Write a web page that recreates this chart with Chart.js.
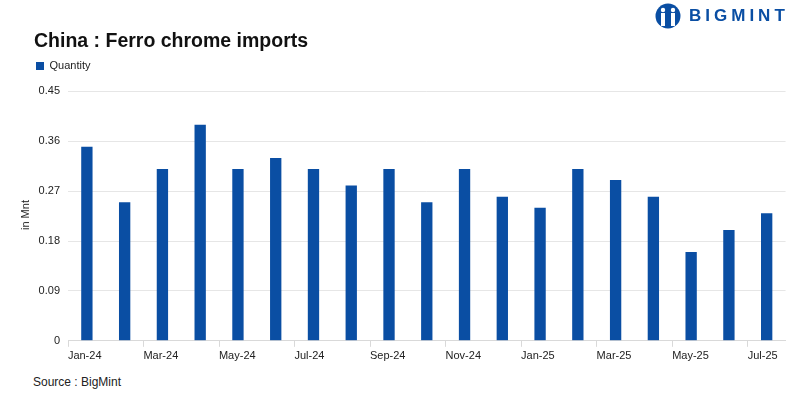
<!DOCTYPE html>
<html>
<head>
<meta charset="utf-8">
<script src="https://cdn.jsdelivr.net/npm/chart.js@4.4.1/dist/chart.umd.min.js"></script>
<style>
    body { margin: 0; background: #fff; font-family: "Liberation Sans", Arial, sans-serif; }
    #wrap { position: relative; width: 800px; height: 399px; }
    #chart-box { position: absolute; left: 0; top: 0; width: 800px; height: 366px; }
    .logo { position: absolute; left: 655px; top: 3px; display: flex; align-items: center; }
    .logo span { color: #0a4ea3; font-weight: bold; font-size: 17px; letter-spacing: 4px; margin-left: 8px; }
    .y-title { position: absolute; left: 25px; top: 215px; transform: translate(-50%, -50%) rotate(-90deg); font-size: 11px; color: #222; white-space: nowrap; }
    .source { position: absolute; left: 33px; top: 375px; font-size: 12px; color: #222; }
</style>
</head>
<body>
<div id="wrap">
    <div id="chart-box"><canvas id="imports-canvas"></canvas></div>
    <div class="y-title">in Mnt</div>
    <div class="logo">
        <svg width="26" height="26" viewBox="0 0 26 26">
            <circle cx="13" cy="13" r="12.5" fill="#0a4ea3"/>
            <circle cx="8" cy="7" r="2.2" fill="#fff"/>
            <circle cx="18" cy="7" r="2.2" fill="#fff"/>
            <rect x="6" y="10" width="4" height="13" fill="#fff"/>
            <rect x="16" y="10" width="4" height="13" fill="#fff"/>
            <rect x="11.5" y="4" width="3" height="19" fill="#0a4ea3"/>
        </svg>
        <span>BIGMINT</span>
    </div>
    <div class="source">Source : BigMint</div>
</div>
<script>
const months = [
    "Jan-24", "Feb-24", "Mar-24", "Apr-24", "May-24", "Jun-24", "Jul-24",
    "Aug-24", "Sep-24", "Oct-24", "Nov-24", "Dec-24", "Jan-25", "Feb-25",
    "Mar-25", "Apr-25", "May-25", "Jun-25", "Jul-25",
];
const quantity = [
    0.35, 0.25, 0.31, 0.39, 0.31, 0.33, 0.31, 0.28, 0.31, 0.25,
    0.31, 0.26, 0.24, 0.31, 0.29, 0.26, 0.16, 0.20, 0.23,
];
const yTicks = [0, 0.09, 0.18, 0.27, 0.36, 0.45];

// push the plot area down a little below the legend
const legendGap = {
    id: "legendGap",
    beforeInit(chart) {
        const fit = chart.legend.fit;
        chart.legend.fit = function () {
            fit.call(this);
            this.height += 10;
        };
    },
};

const canvas = document.querySelector("#imports-canvas");
new Chart(canvas, {
    type: "bar",
    data: {
        labels: months,
        datasets: [
            {
                label: "Quantity",
                data: quantity,
                backgroundColor: "#0a4ea3",
                barPercentage: 0.3,
                categoryPercentage: 1,
            },
        ],
    },
    plugins: [legendGap],
    options: {
        responsive: true,
        maintainAspectRatio: false,
        animation: false,
        layout: { padding: { left: 34, right: 14, top: 22, bottom: 0 } },
        plugins: {
            title: {
                display: true,
                text: "China : Ferro chrome imports",
                align: "start",
                color: "#111",
                font: { family: "Liberation Sans", size: 19.5, weight: "bold" },
                padding: { top: 8, bottom: 5 },
            },
            legend: {
                align: "start",
                labels: {
                    boxWidth: 8,
                    boxHeight: 8,
                    color: "#222",
                    font: { family: "Liberation Sans", size: 11 },
                    padding: 2,
                },
            },
            tooltip: { enabled: false },
        },
        scales: {
            x: {
                offset: true,
                grid: {
                    offset: true,
                    drawOnChartArea: false,
                    drawTicks: true,
                    tickLength: 6,
                    color: (ctx) => (ctx.index % 2 === 0 ? "#d9d9d9" : "rgba(0,0,0,0)"),
                },
                border: { color: "#d9d9d9" },
                ticks: {
                    autoSkip: false,
                    maxRotation: 0,
                    align: "start",
                    labelOffset: -19,
                    color: "#222",
                    font: { family: "Liberation Sans", size: 11 },
                    callback: (value, index) => (index % 2 === 0 ? months[index] : ""),
                },
            },
            y: {
                min: 0,
                max: 0.45,
                afterBuildTicks: (scale) => {
                    scale.ticks = yTicks.map((v) => ({ value: v }));
                },
                afterFit: (scale) => {
                    scale.width = 34;
                },
                grid: { color: "#e6e6e6", drawTicks: false },
                border: { display: false },
                ticks: {
                    padding: 8,
                    color: "#222",
                    font: { family: "Liberation Sans", size: 11 },
                    callback: (v) => String(+v.toFixed(2)),
                },
            },
        },
    },
});
</script>
</body>
</html>
